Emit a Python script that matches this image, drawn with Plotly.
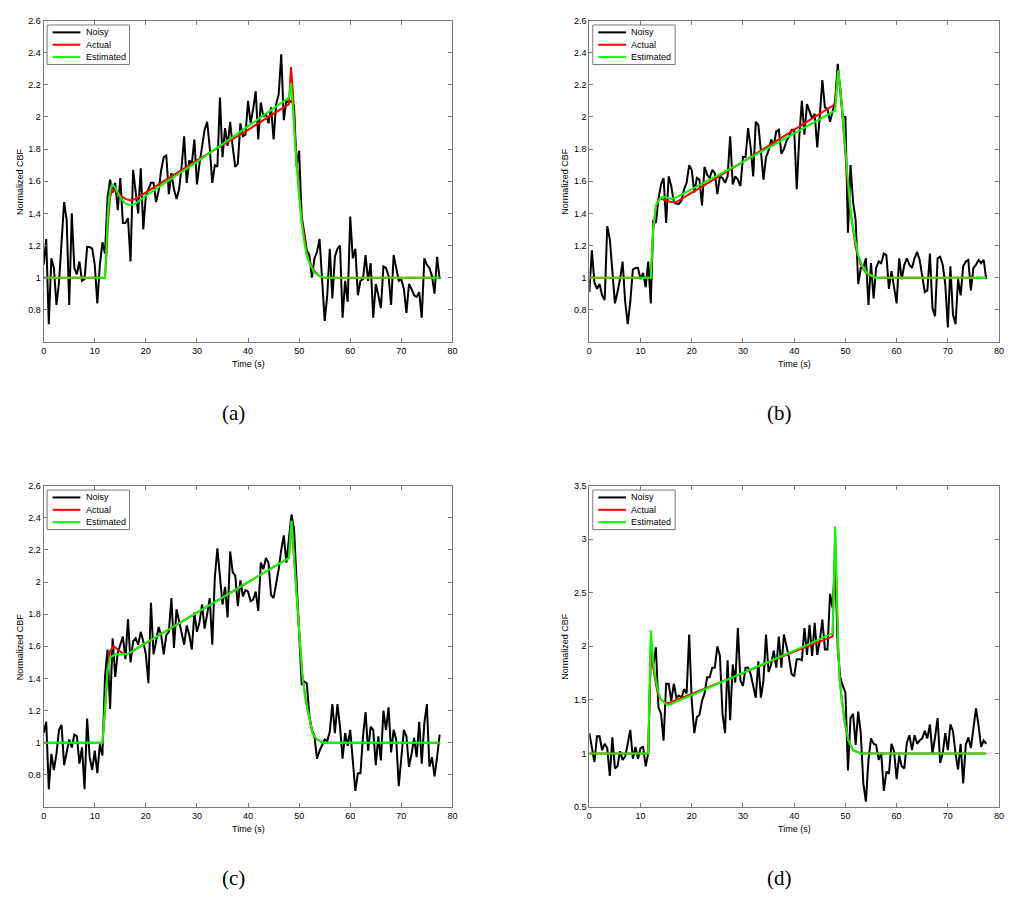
import plotly.graph_objects as go

W, H = 1010, 899

# sampling times (s), 0 .. 77.5 every 0.5 s
T = [i * 0.5 for i in range(156)]

NOISY_A = [
    1.08, 1.24, 0.71, 1.12, 1.06, 0.83, 0.97, 1.20, 1.47, 1.36,
    0.83, 1.40, 1.06, 1.02, 1.10, 0.98, 0.99, 1.19, 1.19, 1.18,
    1.08, 0.84, 1.08, 1.22, 1.15, 1.50, 1.61, 1.53, 1.59, 1.42,
    1.62, 1.34, 1.34, 1.37, 1.10, 1.67, 1.55, 1.40, 1.68, 1.30,
    1.51, 1.55, 1.59, 1.59, 1.47, 1.54, 1.67, 1.75, 1.76, 1.52,
    1.65, 1.55, 1.49, 1.55, 1.69, 1.88, 1.59, 1.73, 1.71, 1.86,
    1.58, 1.71, 1.83, 1.92, 1.97, 1.81, 1.59, 1.70, 1.69, 2.12,
    1.75, 1.93, 1.82, 1.97, 1.81, 1.69, 1.71, 1.96, 1.88, 1.89,
    2.10, 1.96, 2.05, 2.16, 1.86, 2.09, 2.00, 2.02, 1.96, 2.06,
    1.86, 2.08, 2.14, 2.39, 1.98, 2.10, 2.09, 2.10, 2.07, 1.69,
    1.79, 1.38, 1.28, 1.17, 1.14, 1.00, 1.12, 1.16, 1.24, 1.01,
    0.73, 0.89, 1.18, 0.87, 1.13, 1.18, 1.20, 0.75, 0.98, 0.85,
    1.38, 1.12, 1.18, 0.89, 0.98, 0.99, 1.14, 0.98, 1.09, 0.75,
    0.96, 0.89, 0.81, 1.07, 1.06, 1.01, 0.83, 1.14, 1.06, 0.98,
    0.99, 0.93, 0.78, 0.96, 0.93, 0.89, 0.88, 0.91, 0.75, 1.12,
    1.08, 1.06, 1.01, 0.90, 1.13, 0.99,
]
NOISY_B = [
    0.91, 1.17, 0.97, 0.93, 0.96, 0.89, 0.86, 1.32, 1.24, 1.06,
    0.84, 0.91, 0.99, 1.10, 0.85, 0.71, 0.85, 1.05, 1.06, 1.06,
    0.99, 1.03, 0.94, 1.10, 0.84, 1.36, 1.34, 1.49, 1.58, 1.62,
    1.34, 1.63, 1.57, 1.47, 1.46, 1.46, 1.48, 1.55, 1.59, 1.70,
    1.67, 1.53, 1.62, 1.61, 1.45, 1.69, 1.64, 1.62, 1.67, 1.65,
    1.52, 1.63, 1.62, 1.59, 1.63, 1.88, 1.58, 1.63, 1.61, 1.57,
    1.75, 1.75, 1.93, 1.81, 1.63, 1.97, 1.95, 1.79, 1.61, 1.75,
    1.79, 1.86, 1.82, 1.91, 1.92, 1.77, 1.80, 1.85, 1.88, 1.92,
    1.92, 1.55, 1.88, 2.10, 1.89, 2.08, 2.04, 1.99, 2.02, 1.81,
    2.01, 2.23, 2.06, 2.05, 1.97, 2.04, 2.10, 2.33, 2.18, 2.00,
    2.00, 1.28, 1.70, 1.47, 1.36, 0.96, 1.06, 1.06, 1.12, 0.83,
    1.09, 0.87, 1.06, 1.10, 1.09, 1.15, 1.14, 0.93, 1.04, 0.93,
    0.84, 1.12, 0.99, 1.08, 1.12, 1.08, 1.06, 1.12, 1.16, 1.11,
    1.01, 0.91, 0.92, 1.15, 0.81, 0.76, 1.12, 1.13, 1.08, 0.96,
    0.69, 1.07, 0.77, 0.71, 0.99, 0.89, 1.07, 1.10, 1.11, 0.92,
    1.06, 1.08, 1.11, 1.09, 1.11, 0.99,
]
NOISY_C = [
    1.06, 1.13, 0.71, 0.93, 0.83, 0.93, 1.08, 1.11, 0.86, 0.93,
    1.02, 0.97, 1.05, 1.04, 0.87, 0.97, 0.71, 1.15, 0.91, 0.83,
    0.95, 0.81, 0.99, 0.92, 1.41, 1.58, 1.21, 1.65, 1.41, 1.56,
    1.61, 1.66, 1.52, 1.77, 1.50, 1.63, 1.65, 1.61, 1.69, 1.63,
    1.55, 1.37, 1.87, 1.55, 1.63, 1.72, 1.67, 1.55, 1.67, 1.69,
    1.90, 1.59, 1.83, 1.75, 1.69, 1.61, 1.73, 1.67, 1.58, 1.81,
    1.69, 1.75, 1.86, 1.71, 1.80, 1.90, 1.61, 2.03, 2.21, 2.02,
    1.86, 1.97, 1.78, 2.19, 2.06, 2.04, 1.85, 2.01, 1.91, 1.95,
    1.94, 1.88, 1.89, 1.94, 1.82, 2.12, 2.08, 2.15, 2.12, 1.92,
    1.90, 1.99, 2.08, 2.20, 2.29, 2.12, 2.29, 2.42, 2.33, 1.98,
    1.69, 1.36, 1.38, 1.37, 1.17, 1.08, 1.04, 0.90, 0.95, 0.99,
    1.02, 1.01, 1.07, 1.24, 1.06, 1.24, 1.10, 0.90, 1.06, 0.98,
    1.08, 0.89, 0.70, 0.81, 0.81, 1.04, 1.19, 0.95, 1.10, 1.08,
    0.86, 1.04, 0.89, 1.20, 1.08, 1.22, 0.94, 1.08, 1.02, 0.73,
    0.89, 1.08, 1.04, 0.85, 0.93, 1.03, 0.91, 1.13, 0.87, 1.12,
    1.24, 0.85, 0.91, 0.79, 0.91, 1.05,
]
NOISY_D = [
    1.19, 1.06, 0.92, 1.16, 1.16, 1.03, 1.09, 1.05, 0.79, 1.15,
    0.86, 0.88, 1.02, 0.94, 0.97, 1.09, 1.22, 0.95, 1.06, 0.95,
    1.05, 1.06, 0.88, 1.00, 1.97, 1.83, 1.99, 1.43, 1.37, 1.12,
    1.65, 1.65, 1.49, 1.65, 1.52, 1.54, 1.52, 1.60, 1.56, 2.11,
    1.49, 1.19, 1.34, 1.36, 1.49, 1.56, 1.71, 1.71, 1.80, 1.80,
    2.00, 1.91, 1.37, 1.19, 1.87, 1.31, 1.83, 1.66, 2.17, 1.68,
    1.63, 1.80, 1.80, 1.74, 1.62, 1.52, 1.86, 1.52, 1.68, 2.11,
    1.76, 1.83, 1.96, 1.80, 2.09, 1.80, 2.11, 2.00, 1.89, 1.74,
    1.72, 1.88, 1.88, 1.87, 2.17, 1.92, 2.20, 1.91, 2.22, 1.92,
    2.05, 2.25, 1.97, 1.97, 2.49, 2.36, 2.80, 1.98, 1.71, 1.63,
    1.57, 0.84, 1.33, 1.37, 1.08, 1.39, 1.19, 0.72, 0.55, 0.94,
    1.14, 1.09, 1.08, 0.94, 1.00, 0.65, 0.83, 0.81, 1.09, 1.02,
    0.76, 0.98, 0.88, 0.86, 1.10, 1.17, 1.03, 1.17, 1.09, 1.12,
    1.14, 1.21, 1.14, 1.27, 1.00, 1.15, 1.33, 0.91, 1.00, 1.19,
    1.03, 1.27, 1.21, 1.00, 0.85, 1.09, 0.72, 1.08, 1.15, 1.05,
    1.25, 1.42, 1.26, 1.06, 1.12, 1.09,
]

# Actual / Estimated curves (time, value)
ACT_T_A = [0, 12, 12.3, 12.6, 13, 13.5, 14, 15, 16, 17, 18, 20, 30, 40, 48, 48.4, 48.8, 49.2, 49.6, 50, 50.5, 51, 51.5, 52, 53, 54, 55, 77.5]
ACT_V_A = [1, 1, 1.15, 1.35, 1.50, 1.55, 1.54, 1.51, 1.49, 1.48, 1.49, 1.53, 1.73, 1.92, 2.08, 2.31, 2.15, 1.88, 1.68, 1.53, 1.36, 1.24, 1.15, 1.10, 1.04, 1.01, 1.0, 1.0]
EST_T_A = [0, 12, 12.3, 12.6, 13, 13.4, 14, 15, 16, 17, 18, 20, 30, 40, 48, 48.4, 48.8, 49.2, 49.6, 50, 50.5, 51, 51.5, 52, 53, 54, 55, 77.5]
EST_V_A = [1, 1, 1.2, 1.42, 1.54, 1.58, 1.56, 1.50, 1.46, 1.45, 1.46, 1.51, 1.72, 1.94, 2.12, 2.21, 2.05, 1.83, 1.64, 1.50, 1.34, 1.22, 1.14, 1.09, 1.03, 1.01, 1.0, 1.0]

ACT_T_B = [0, 12, 12.5, 13, 13.5, 14, 15, 16, 17, 18, 30, 40, 48, 48.5, 49.0, 49.5, 50, 50.5, 51, 51.5, 52, 53, 54, 55, 56, 77.5]
ACT_V_B = [1, 1, 1.30, 1.44, 1.49, 1.49, 1.48, 1.47, 1.47, 1.49, 1.72, 1.92, 2.08, 2.28, 2.18, 1.97, 1.75, 1.56, 1.41, 1.29, 1.19, 1.08, 1.03, 1.01, 1.0, 1.0]
EST_T_B = [0, 12, 12.5, 13, 14, 15, 16, 17, 30, 40, 48, 48.6, 49.3, 49.9, 50.6, 51.2, 51.9, 52.5, 53.2, 54.1, 55.8, 77.5]
EST_V_B = [1, 1, 1.32, 1.45, 1.50, 1.50, 1.49, 1.50, 1.72, 1.90, 2.04, 2.29, 2.08, 1.83, 1.55, 1.36, 1.24, 1.14, 1.08, 1.03, 1.0, 1.0]

ACT_T_C = [0, 11.5, 12, 12.5, 13, 13.7, 14.5, 15.5, 16.3, 30, 40, 48, 48.5, 49.3, 50, 50.6, 51.3, 52, 52.6, 53.5, 54.8, 77.5]
ACT_V_C = [1, 1, 1.2, 1.45, 1.57, 1.60, 1.58, 1.555, 1.55, 1.81, 2.00, 2.15, 2.38, 2.04, 1.69, 1.43, 1.26, 1.14, 1.06, 1.02, 1.0, 1.0]
EST_T_C = [0, 11.5, 12, 12.5, 13, 14, 16.3, 30, 40, 48, 48.5, 49.3, 50, 50.6, 51.3, 52, 52.6, 53.5, 54.8, 77.5]
EST_V_C = [1, 1, 1.22, 1.45, 1.53, 1.55, 1.55, 1.81, 2.00, 2.15, 2.38, 2.04, 1.69, 1.43, 1.26, 1.14, 1.06, 1.02, 1.0, 1.0]

ACT_T_D = [0, 11.5, 12, 12.5, 13, 13.5, 14, 15, 15.5, 30, 40, 47.5, 48, 48.6, 48.9, 49.3, 49.9, 50.6, 51.5, 53, 77.5]
ACT_V_D = [1, 1, 1.95, 1.80, 1.64, 1.54, 1.50, 1.47, 1.47, 1.75, 1.95, 2.09, 3.05, 1.98, 1.68, 1.50, 1.28, 1.12, 1.03, 1.0, 1.0]
EST_T_D = [0, 11.5, 12, 12.5, 13, 13.5, 14, 15, 15.5, 30, 40, 47.5, 48, 48.6, 48.9, 49.3, 49.9, 50.6, 51.5, 53, 77.5]
EST_V_D = [1, 1, 2.15, 1.85, 1.68, 1.57, 1.50, 1.46, 1.45, 1.75, 1.96, 2.12, 3.12, 1.98, 1.68, 1.50, 1.28, 1.12, 1.03, 1.0, 1.0]

X_TICKS = [0, 10, 20, 30, 40, 50, 60, 70, 80]
Y_TICKS_1 = [0.8, 1.0, 1.2, 1.4, 1.6, 1.8, 2.0, 2.2, 2.4, 2.6]
Y_TEXT_1 = ["0.8", "1", "1.2", "1.4", "1.6", "1.8", "2", "2.2", "2.4", "2.6"]
Y_TICKS_D = [0.5, 1.0, 1.5, 2.0, 2.5, 3.0, 3.5]
Y_TEXT_D = ["0.5", "1", "1.5", "2", "2.5", "3", "3.5"]

SERIES_NAMES = ["Noisy", "Actual", "Estimated"]
SERIES_COLORS = ["black", "#ff0000", "#00ff00"]
CAPTIONS = ["(a)", "(b)", "(c)", "(d)"]

panels = [
    dict(noisy=NOISY_A, at=ACT_T_A, av=ACT_V_A, et=EST_T_A, ev=EST_V_A,
         yr=[0.6, 2.6], yt=Y_TICKS_1, ytt=Y_TEXT_1, px=(41, 453), py=(15.7, 340.7)),
    dict(noisy=NOISY_B, at=ACT_T_B, av=ACT_V_B, et=EST_T_B, ev=EST_V_B,
         yr=[0.6, 2.6], yt=Y_TICKS_1, ytt=Y_TEXT_1, px=(591, 1004), py=(15.7, 340.7)),
    dict(noisy=NOISY_C, at=ACT_T_C, av=ACT_V_C, et=EST_T_C, ev=EST_V_C,
         yr=[0.6, 2.6], yt=Y_TICKS_1, ytt=Y_TEXT_1, px=(41, 453), py=(486, 811)),
    dict(noisy=NOISY_D, at=ACT_T_D, av=ACT_V_D, et=EST_T_D, ev=EST_V_D,
         yr=[0.5, 3.5], yt=Y_TICKS_D, ytt=Y_TEXT_D, px=(591, 1004), py=(486, 811)),
]

def fx(px):
    return px / W

def fy(py):
    return 1 - py / H

SANS = "Liberation Sans, Arial, Helvetica, sans-serif"
SERIF = "Liberation Serif, DejaVu Serif, serif"
AXIS_GRAY = "#7a7a7a"

fig = go.Figure()
annotations = []
shapes = []
for i, p in enumerate(panels):
    k = "" if i == 0 else str(i + 1)
    xa, ya = "x" + k, "y" + k
    xs = [T, p["at"], p["et"]]
    ys = [p["noisy"], p["av"], p["ev"]]
    for name, c, xv, yv in zip(SERIES_NAMES, SERIES_COLORS, xs, ys):
        fig.add_trace(go.Scatter(
            x=xv, y=yv, mode="lines", name=name,
            line=dict(color=c, width=2),
            xaxis=xa, yaxis=ya, showlegend=False,
        ))
    axis_common = dict(
        showline=True, linecolor=AXIS_GRAY, linewidth=1, mirror="ticks",
        ticks="inside", ticklen=4, tickcolor=AXIS_GRAY, showgrid=False,
        zeroline=False, tickfont=dict(family=SANS, size=9, color="black"),
    )
    fig.layout["xaxis" + k] = dict(
        domain=[fx(p["px"][0]), fx(p["px"][1])], range=[0, 80],
        tickmode="array", tickvals=X_TICKS, anchor=ya, **axis_common)
    fig.layout["yaxis" + k] = dict(
        domain=[fy(p["py"][1]), fy(p["py"][0])], range=p["yr"],
        tickmode="array", tickvals=p["yt"], ticktext=p["ytt"], anchor=xa,
        **axis_common)

    # legend box (drawn by hand so that it is as compact as in the reference)
    L, Tp = p["px"][0], p["py"][0]
    shapes.append(dict(
        type="rect", xref="paper", yref="paper",
        x0=fx(L + 3.5), x1=fx(L + 86.5), y0=fy(Tp + 44.5), y1=fy(Tp + 4.5),
        line=dict(color=AXIS_GRAY, width=1), fillcolor="white", layer="above"))
    for j, (name, c) in enumerate(zip(SERIES_NAMES, SERIES_COLORS)):
        yy = Tp + 12 + j * 12.5
        shapes.append(dict(
            type="line", xref="paper", yref="paper",
            x0=fx(L + 9), x1=fx(L + 37), y0=fy(yy), y1=fy(yy),
            line=dict(color=c, width=2), layer="above"))
        annotations.append(dict(
            text=name, x=fx(L + 40.5), y=fy(yy), xref="paper", yref="paper",
            showarrow=False, font=dict(family=SANS, size=9, color="black"),
            xanchor="left", yanchor="middle"))

    cx = (p["px"][0] + p["px"][1]) / 2
    cy = (p["py"][0] + p["py"][1]) / 2
    annotations.append(dict(
        text="Time (s)", x=fx(cx), y=fy(p["py"][1] + 22), xref="paper", yref="paper",
        showarrow=False, font=dict(family=SANS, size=9, color="black"),
        xanchor="center", yanchor="middle"))
    annotations.append(dict(
        text="Normalized CBF", x=fx(p["px"][0] - 24), y=fy(cy), xref="paper", yref="paper",
        showarrow=False, textangle=-90, font=dict(family=SANS, size=9, color="black"),
        xanchor="center", yanchor="middle"))
    annotations.append(dict(
        text=CAPTIONS[i], x=fx(cx - 15), y=fy(p["py"][1] + 72), xref="paper", yref="paper",
        showarrow=False, font=dict(family=SERIF, size=21, color="black"),
        xanchor="center", yanchor="middle"))

fig.update_layout(
    width=W, height=H, margin=dict(l=0, r=0, t=0, b=0),
    paper_bgcolor="white", plot_bgcolor="white",
    annotations=annotations, shapes=shapes, showlegend=False,
)

fig.write_html("out.html")
